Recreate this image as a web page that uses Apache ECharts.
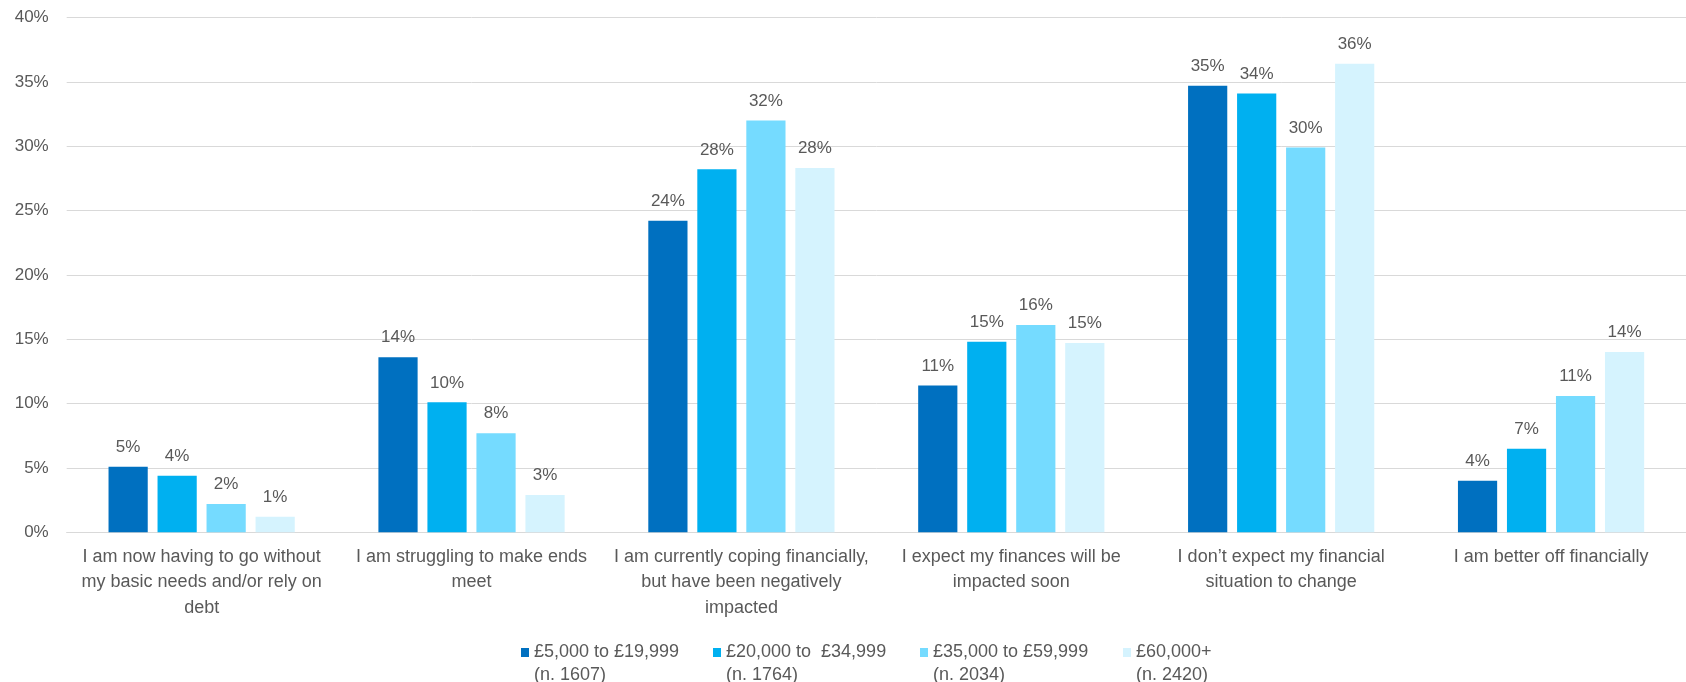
<!DOCTYPE html>
<html>
<head>
<meta charset="utf-8">
<style>
  html, body { margin: 0; padding: 0; background: #ffffff; }
  #chart { width: 1686px; height: 682px; }
</style>
<script src="https://cdn.jsdelivr.net/npm/echarts@6/dist/echarts.min.js"></script>
</head>
<body>
<div id="chart"></div>
<script>
// Response categories (x axis)
const categories = [
  'I am now having to go without\nmy basic needs and/or rely on\ndebt',
  'I am struggling to make ends\nmeet',
  'I am currently coping financially,\nbut have been negatively\nimpacted',
  'I expect my finances will be\nimpacted soon',
  'I don\u2019t expect my financial\nsituation to change',
  'I am better off financially'
];

// Income bands and their sample sizes
const incomeBands = ['£5,000 to £19,999', '£20,000 to  £34,999', '£35,000 to £59,999', '£60,000+'];
const sampleSizes = [1607, 1764, 2034, 2420];

// Share of respondents (%) per income band
const band1Values = [5.1, 13.6, 24.2, 11.4, 34.7, 4.0];
const band2Values = [4.4, 10.1, 28.2, 14.8, 34.1, 6.5];
const band3Values = [2.2, 7.7, 32.0, 16.1, 29.9, 10.6];
const band4Values = [1.2, 2.9, 28.3, 14.7, 36.4, 14.0];

// Y axis scale
const yMin = 0, yMax = 40, yStep = 5;

const bandColors = ['#0070C0', '#00B0F0', '#75DBFF', '#D5F3FE'];
const legendLefts = [521, 713, 920, 1123];
const seriesValues = [band1Values, band2Values, band3Values, band4Values];

const FONT = "'Liberation Sans', Arial, sans-serif";
const TEXT = '#595959';

// Legend marker: a small square sitting level with the first text line;
// the trailing zero-length segment stretches the icon box down to the second line.
const LEGEND_ICON = 'path://M0,0L8,0L8,9L0,9ZM0,32L0,32';

const chart = echarts.init(document.getElementById('chart'), null, { renderer: 'canvas' });

const series = incomeBands.map((name, i) => ({
  name,
  type: 'bar',
  data: seriesValues[i],
  barGap: '25%',
  barCategoryGap: '31%',
  itemStyle: { color: bandColors[i] },
  label: {
    show: true,
    position: 'top',
    distance: 11,
    color: TEXT,
    fontFamily: FONT,
    fontSize: 17,
    formatter: p => Math.round(p.value) + '%'
  }
}));

const legends = incomeBands.map((name, i) => ({
  data: [name],
  left: legendLefts[i],
  top: 641,
  orient: 'horizontal',
  icon: LEGEND_ICON,
  itemWidth: 8,
  itemHeight: 32,
  itemGap: 0,
  padding: 0,
  formatter: n => n + '\n(n. ' + sampleSizes[incomeBands.indexOf(n)] + ')',
  textStyle: {
    color: TEXT,
    fontFamily: FONT,
    fontSize: 18,
    lineHeight: 23
  }
}));

chart.setOption({
  animation: false,
  backgroundColor: '#ffffff',
  grid: { left: 66.7, right: -13, top: 17.5, bottom: 149.7, containLabel: false },
  legend: legends,
  xAxis: {
    type: 'category',
    data: categories,
    axisTick: { show: false },
    axisLine: { lineStyle: { color: '#d9d9d9', width: 1 } },
    axisLabel: {
      interval: 0,
      margin: 12,
      color: TEXT,
      fontFamily: FONT,
      fontSize: 18,
      lineHeight: 25.3,
      align: 'center'
    }
  },
  yAxis: {
    type: 'value',
    min: yMin,
    max: yMax,
    interval: yStep,
    axisLine: { show: false },
    axisTick: { show: false },
    splitLine: { lineStyle: { color: '#d9d9d9', width: 1 } },
    axisLabel: {
      margin: 18,
      color: TEXT,
      fontFamily: FONT,
      fontSize: 17,
      formatter: '{value}%'
    }
  },
  series
});
</script>
</body>
</html>
